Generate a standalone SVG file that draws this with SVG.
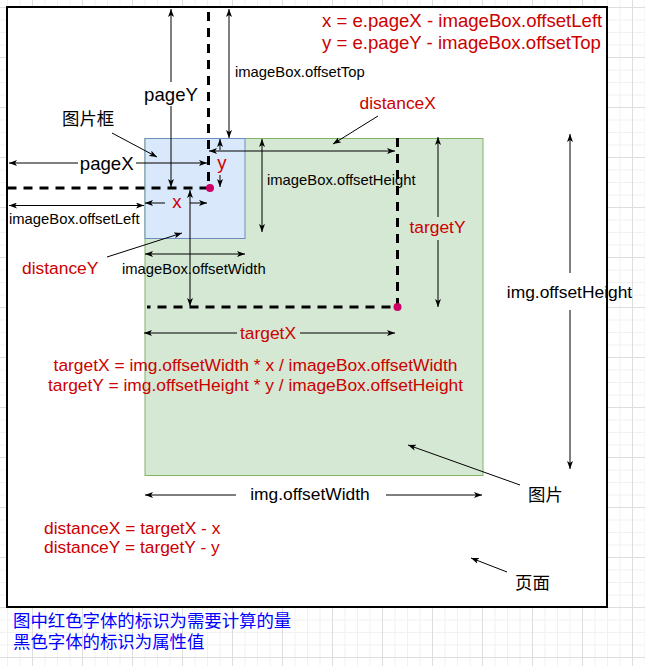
<svg xmlns="http://www.w3.org/2000/svg" width="645" height="666" viewBox="0 0 645 666">
<defs>
<pattern id="grid" width="50" height="50" patternUnits="userSpaceOnUse" x="32" y="7">
<rect width="50" height="50" fill="#fff"/>
<rect x="12.5" y="0" width="1" height="50" fill="#f1f1f1"/>
<rect x="25" y="0" width="1" height="50" fill="#f1f1f1"/>
<rect x="37.5" y="0" width="1" height="50" fill="#f1f1f1"/>
<rect x="0" y="12.5" width="50" height="1" fill="#f1f1f1"/>
<rect x="0" y="25" width="50" height="1" fill="#f1f1f1"/>
<rect x="0" y="37.5" width="50" height="1" fill="#f1f1f1"/>
<rect x="0" y="0" width="1" height="50" fill="#dedede"/>
<rect x="0" y="0" width="50" height="1" fill="#dedede"/>
</pattern>
<marker id="ah" viewBox="0 0 8 6" refX="8" refY="3" markerWidth="8" markerHeight="6" markerUnits="userSpaceOnUse" orient="auto-start-reverse">
<path d="M0,0 L8,3 L0,6 L2,3 z" fill="#000"/>
</marker>
<style>
text { font-family: "Liberation Sans", Arial, "Noto Sans CJK SC", sans-serif; }
.r { fill: #CC0000; }
.k { fill: #000; }
.b { fill: #0000FF; }
.s { font-size: 14.8px; }
.m { font-size: 17.4px; }
.l { font-size: 18.6px; }
.c { text-anchor: middle; }
.dash { fill: none; stroke: #000; stroke-width: 3; stroke-dasharray: 9 7; }
.arr { fill: none; stroke: #000; stroke-width: 1; marker-end: url(#ah); }
.dbl { fill: none; stroke: #000; stroke-width: 1; marker-start: url(#ah); marker-end: url(#ah); }
.dot { fill: #CC0066; }
</style>
</defs>
<rect x="0" y="0" width="645" height="666" fill="url(#grid)"/>

<g id="page">
<rect x="7" y="7" width="600" height="600" fill="#fff" stroke="#000" stroke-width="2"/>
</g>
<g id="img">
<rect x="145" y="138.5" width="338" height="337" fill="#d5e8d4" stroke="#82b366" stroke-width="1"/>
</g>
<g id="imageBox">
<rect x="145" y="138.5" width="100" height="100" fill="#dae8fc" stroke="#6c8ebf" stroke-width="1"/>
</g>

<g id="connectors">
<path class="dash" d="M208.5,12 V188 H8"/>
<path class="dash" d="M397.5,138 V307 H147"/>
<path class="dbl" d="M171,9 V82 M171,106 V187"/>
<path class="dbl" d="M229,9 V138"/>
<path class="dbl" d="M9,163 H78 M136,163 H207"/>
<path class="dbl" d="M9,205.5 H144"/>
<path class="dbl" d="M145,203 H165 M190,203 H207"/>
<path class="dbl" d="M220,139 V150 M220,175 V187"/>
<path class="dbl" d="M209,151 H395"/>
<path class="dbl" d="M262,139 V232"/>
<path class="dbl" d="M145,254 H245"/>
<path class="dbl" d="M190,190 V306"/>
<path class="dbl" d="M438,137 V217 M438,240 V307"/>
<path class="dbl" d="M144,333 H237 M300,333 H395"/>
<path class="dbl" d="M570,134 V273 M570,310 V469"/>
<path class="dbl" d="M145,495 H236 M386,495 H482"/>
<path class="arr" d="M378,116 L333,144"/>
<path class="arr" d="M107,257 L182,233"/>
<path class="arr" d="M112,133 L157,157"/>
<path class="arr" d="M520,485 L408,445"/>
<path class="arr" d="M507,572 L471,558"/>
</g>

<g id="points">
<circle class="dot" cx="210" cy="188" r="4"/>
<circle class="dot" cx="397.5" cy="307" r="4"/>
</g>

<g id="labels">
<text class="r l" x="322" y="26.5">x = e.pageX - imageBox.offsetLeft</text>
<text class="r l" x="322" y="49">y = e.pageY - imageBox.offsetTop</text>
<text class="k l c" x="171" y="101">pageY</text>
<text class="k l c" x="106.7" y="169.5">pageX</text>
<text class="k s" x="235" y="77">imageBox.offsetTop</text>
<text class="k s" x="9" y="224">imageBox.offsetLeft</text>
<text class="k s" x="267" y="184.5">imageBox.offsetHeight</text>
<text class="k s" x="122" y="274">imageBox.offsetWidth</text>
<text class="r l c" x="177" y="207.5">x</text>
<text class="r l c" x="222" y="168.5">y</text>
<text class="r m" x="359.5" y="109">distanceX</text>
<text class="r m" x="22" y="274">distanceY</text>
<text class="r m c" x="437.5" y="233">targetY</text>
<text class="r m c" x="268" y="339">targetX</text>
<text class="k m c" x="569.5" y="298.3">img.offsetHeight</text>
<text class="k m c" x="310" y="500">img.offsetWidth</text>
<text class="k m" x="62" y="124.5">图片框</text>
<text class="k m" x="528" y="501">图片</text>
<text class="k m" x="515" y="588.5">页面</text>
<text class="r m c" x="255.5" y="370.7">targetX = img.offsetWidth * x / imageBox.offsetWidth</text>
<text class="r m c" x="255.5" y="390.7">targetY = img.offsetHeight * y / imageBox.offsetHeight</text>
<text class="r m" x="44" y="534">distanceX = targetX - x</text>
<text class="r m" x="44" y="553.3">distanceY = targetY - y</text>
<text class="b m" x="13" y="626.5">图中红色字体的标识为需要计算的量</text>
<text class="b m" x="13" y="647.5">黑色字体的标识为属性值</text>
</g>
</svg>
